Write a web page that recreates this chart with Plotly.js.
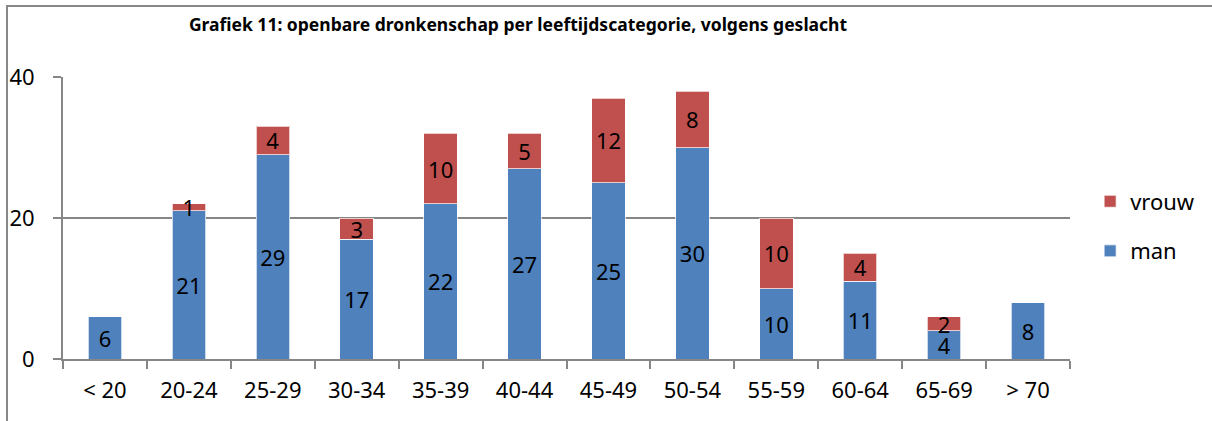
<!DOCTYPE html>
<html><head><meta charset="utf-8">
<script src="https://cdn.plot.ly/plotly-3.0.1.min.js"></script>
<style>
html,body{margin:0;padding:0;background:#fff;}
#wrap{position:relative;width:1212px;height:421px;}
#chart{width:1212px;height:421px;}
#frame{position:absolute;left:6px;top:5px;width:1230px;height:430px;border:2px solid #888;pointer-events:none;}
</style></head>
<body>
<div id="wrap"><div id="chart"></div><div id="frame"></div></div>
<script>
const categories = ['< 20','20-24','25-29','30-34','35-39','40-44','45-49','50-54','55-59','60-64','65-69','> 70'];
const manValues = [6,21,29,17,22,27,25,30,10,11,4,8];
const vrouwValues = [0,1,4,3,10,5,12,8,10,4,2,0];
const titleText = 'Grafiek 11: openbare dronkenschap per leeftijdscategorie, volgens geslacht';

const FONT = '"Noto Sans", "Open Sans", sans-serif';
const lbl = v => v > 0 ? String(v) : '';

const common = {
  type: 'bar', x: categories,
  textposition: 'inside', insidetextanchor: 'middle', textangle: 0,
  textfont: {family: FONT, size: 22, color: '#000'},
  hoverinfo: 'skip', cliponaxis: false
};
const traces = [
  Object.assign({}, common, {name: 'man', y: manValues, text: manValues.map(lbl),
    marker: {color: '#4F81BD', line: {color: 'rgba(255,255,255,0.7)', width: 1}}, legendgroup: 'a', legendrank: 2}),
  Object.assign({}, common, {name: 'vrouw', y: vrouwValues, text: vrouwValues.map(lbl),
    marker: {color: '#C0504D', line: {color: 'rgba(255,255,255,0.7)', width: 1}}, legendgroup: 'b', legendrank: 1})
];

const layout = {
  width: 1212, height: 421,
  margin: {l: 63, r: 132, t: 77, b: 62},
  barmode: 'stack', bargap: 0.6,
  paper_bgcolor: '#fff', plot_bgcolor: '#fff',
  font: {family: FONT, size: 22, color: '#000'},
  title: {text: '<b>' + titleText + '</b>', font: {family: FONT, size: 17.5, color: '#000'},
    xref: 'container', x: 518/1212, xanchor: 'center', yref: 'container', y: 1 - 25/421, yanchor: 'middle'},
  uniformtext: {minsize: 22, mode: 'show'},
  showlegend: true,
  legend: {x: 1.02, xanchor: 'left', y: 0.47, yanchor: 'middle', traceorder: 'grouped',
    tracegroupgap: 18, font: {family: FONT, size: 22, color: '#000'}, bgcolor: 'rgba(0,0,0,0)'},
  xaxis: {type: 'category', showline: true, linecolor: '#868686', linewidth: 2,
    ticks: 'outside', tickson: 'boundaries', ticklen: 8, tickcolor: '#868686', tickwidth: 2,
    ticklabelstandoff: 11,
    showgrid: false, tickfont: {family: FONT, size: 22, color: '#000'}, fixedrange: true},
  yaxis: {range: [0, 40], dtick: 20, tick0: 0, showline: true, linecolor: '#868686', linewidth: 2,
    ticks: 'outside', ticklen: 8, tickcolor: '#868686', tickwidth: 2,
    showgrid: true, gridcolor: '#868686', gridwidth: 2, zeroline: false,
    ticklabelstandoff: 14, tickfont: {family: FONT, size: 22, color: '#000'}, fixedrange: true}
};
Plotly.newPlot('chart', traces, layout, {displayModeBar: false, staticPlot: true});
</script>
</body></html>
